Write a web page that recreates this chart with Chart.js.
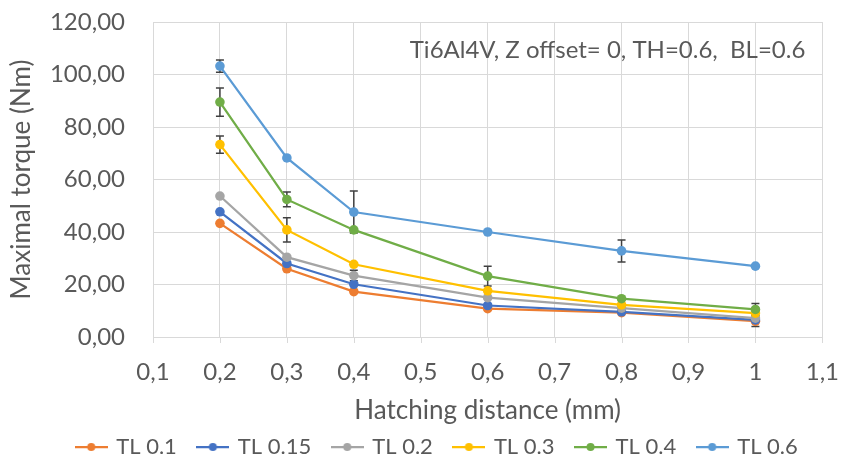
<!DOCTYPE html>
<html>
<head>
<meta charset="utf-8">
<script src="https://cdn.jsdelivr.net/npm/chart.js@4/dist/chart.umd.min.js"></script>
<style>
  html, body { margin: 0; padding: 0; background: #ffffff; }
  #wrap { width: 842px; height: 462px; }
</style>
</head>
<body>
<div id="wrap"><canvas id="c" width="842" height="462"></canvas></div>
<script>
// ---- data ----
const xValues = [0.2, 0.3, 0.4, 0.6, 0.8, 1];
const seriesNames = ['TL 0.1', 'TL 0.15', 'TL 0.2', 'TL 0.3', 'TL 0.4', 'TL 0.6'];
const tl01  = [43.3, 26.0, 17.3, 10.8, 9.3, 6.0];
const tl015 = [47.7, 28.0, 20.1, 12.0, 9.6, 6.5];
const tl02  = [53.7, 30.4, 23.4, 15.0, 11.0, 7.2];
const tl03  = [73.3, 40.8, 27.7, 17.6, 12.2, 9.1];
const tl04  = [89.5, 52.4, 40.8, 23.2, 14.6, 10.5];
const tl06  = [103.2, 68.2, 47.6, 40.0, 32.8, 27.0];
const err01  = [null, null, null, null, null, 2.0];
const err015 = [null, null, null, null, null, null];
const err02  = [null, null, 2.0, null, null, null];
const err03  = [3.3, 4.6, null, null, null, null];
const err04  = [5.4, 2.8, null, 3.8, null, 2.3];
const err06  = [2.3, null, 8.0, null, 4.2, null];
const xTickLabels = ['0,1', '0,2', '0,3', '0,4', '0,5', '0,6', '0,7', '0,8', '0,9', '1', '1,1'];
const yTickLabels = ['0,00', '20,00', '40,00', '60,00', '80,00', '100,00', '120,00'];
const annotationText = 'Ti6Al4V, Z offset= 0, TH=0.6,  BL=0.6';
const xTitle = 'Hatching distance (mm)';
const yTitle = 'Maximal torque (Nm)';

const allValues = [tl01, tl015, tl02, tl03, tl04, tl06];
const allErrors = [err01, err015, err02, err03, err04, err06];
const colors = ['#ED7D31', '#4472C4', '#A5A5A5', '#FFC000', '#70AD47', '#5B9BD5'];

const FONT = 'Lato, "Open Sans", sans-serif';
const TXT = '#595959';
const GRID = '#D9D9D9';

// legend marker images: line with dot
const legendImgs = colors.map(c => {
  const cv = document.createElement('canvas');
  cv.width = 33; cv.height = 12;
  const g = cv.getContext('2d');
  g.strokeStyle = c; g.lineWidth = 2.25;
  g.beginPath(); g.moveTo(0, 6); g.lineTo(33, 6); g.stroke();
  g.fillStyle = c; g.beginPath(); g.arc(16.5, 6, 4, 0, Math.PI * 2); g.fill();
  return cv;
});

const datasets = allValues.map((vals, i) => ({
  label: seriesNames[i],
  data: xValues.map((x, j) => ({ x: x, y: vals[j] })),
  borderColor: colors[i],
  backgroundColor: colors[i],
  pointBackgroundColor: colors[i],
  pointBorderColor: colors[i],
  pointBorderWidth: 0,
  pointRadius: 4.8,
  borderWidth: 2.25,
  tension: 0,
  order: allValues.length - i
}));

const fmtTick = (arr, v, step) => {
  const idx = Math.round(v / step);
  return arr[idx - (arr === xTickLabels ? 1 : 0)];
};

const errorBars = {
  id: 'errorBars',
  beforeDatasetsDraw(chart) {
    const { ctx, scales } = chart;
    const xs = scales.x, ys = scales.y;
    ctx.save();
    // short tick marks below the x axis
    ctx.strokeStyle = GRID;
    ctx.lineWidth = 1;
    xs.ticks.forEach((t, k) => {
      const px = Math.round(xs.getPixelForTick(k)) + 0.5;
      ctx.beginPath(); ctx.moveTo(px, xs.top); ctx.lineTo(px, xs.top + 6); ctx.stroke();
    });
    ctx.strokeStyle = '#404040';
    ctx.lineWidth = 1.5;
    allErrors.forEach((errs, i) => {
      errs.forEach((e, j) => {
        if (e == null) return;
        const px = xs.getPixelForValue(xValues[j]);
        const pt = ys.getPixelForValue(allValues[i][j] + e);
        const pb = ys.getPixelForValue(allValues[i][j] - e);
        ctx.beginPath();
        ctx.moveTo(px, pt); ctx.lineTo(px, pb);
        ctx.moveTo(px - 4, pt); ctx.lineTo(px + 4, pt);
        ctx.moveTo(px - 4, pb); ctx.lineTo(px + 4, pb);
        ctx.stroke();
      });
    });
    ctx.restore();
  }
};

const annotation = {
  id: 'annotation',
  afterDraw(chart) {
    const { ctx, chartArea } = chart;
    ctx.save();
    ctx.font = '24px ' + FONT;
    ctx.fillStyle = TXT;
    ctx.textAlign = 'right';
    ctx.textBaseline = 'middle';
    ctx.fillText(annotationText, chartArea.right - 17, chartArea.top + 28);
    ctx.restore();
  }
};

const legendFix = {
  id: 'legendFix',
  beforeLayout(chart) {
    const lg = chart.legend;
    if (lg && !lg._fixed) {
      const orig = lg.fit.bind(lg);
      lg.fit = function () { orig(); this.height = 48; };
      lg._fixed = true;
    }
  },
  afterLayout(chart) {
    const lg = chart.legend;
    if (lg) { lg.left += 26; lg.right += 26; }
  }
};

new Chart(document.getElementById('c'), {
  type: 'line',
  data: { datasets },
  options: {
    responsive: false,
    animation: false,
    devicePixelRatio: 1,
    layout: { padding: { left: 0, right: 19, top: 22, bottom: 0 } },
    plugins: {
      tooltip: { enabled: false },
      legend: {
        position: 'bottom',
        labels: {
          usePointStyle: true,
          pointStyleWidth: 28,
          padding: 22,
          color: TXT,
          font: { family: FONT, size: 22 },
          generateLabels: (chart) => chart.data.datasets.map((ds, i) => ({
            text: ds.label,
            fillStyle: ds.borderColor,
            strokeStyle: ds.borderColor,
            lineWidth: 0,
            pointStyle: legendImgs[i],
            hidden: false,
            datasetIndex: i,
            fontColor: TXT
          }))
        }
      }
    },
    scales: {
      x: {
        type: 'linear',
        min: 0.1, max: 1.1,
        afterFit: (s) => { s.height = 77; },
        ticks: {
          stepSize: 0.1,
          padding: 3,
          color: TXT,
          font: { family: FONT, size: 24 },
          maxRotation: 0,
          autoSkip: false,
          callback: (v) => fmtTick(xTickLabels, v, 0.1)
        },
        grid: { color: GRID, lineWidth: 1, drawTicks: true, tickLength: 18, tickColor: 'rgba(0,0,0,0)' },
        border: { color: GRID, width: 1 },
        title: {
          display: true, text: xTitle, color: TXT,
          font: { family: FONT, size: 26 },
          padding: { top: 0, bottom: -12 }
        }
      },
      y: {
        min: 0, max: 120,
        afterFit: (s) => { s.width = 153; },
        ticks: {
          stepSize: 20,
          padding: 3,
          color: TXT,
          font: { family: FONT, size: 24 },
          callback: (v) => fmtTick(yTickLabels, v, 20)
        },
        grid: { color: GRID, lineWidth: 1, drawTicks: true, tickLength: 25, tickColor: 'rgba(0,0,0,0)' },
        border: { color: GRID, width: 1 },
        title: {
          display: true, text: yTitle, color: TXT,
          font: { family: FONT, size: 26 },
          padding: { top: 6, bottom: 0 }
        }
      }
    }
  },
  plugins: [errorBars, annotation, legendFix]
});
</script>
</body>
</html>
